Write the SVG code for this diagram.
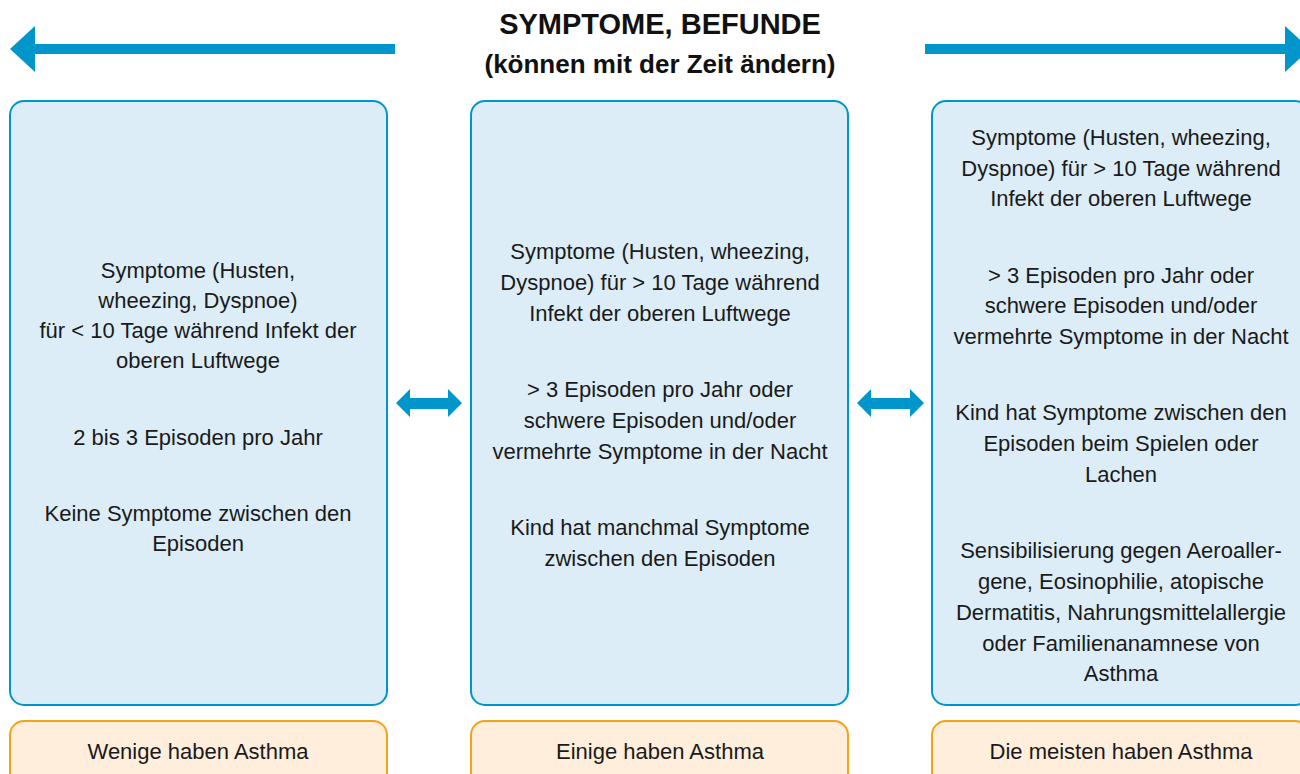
<svg xmlns="http://www.w3.org/2000/svg" width="1300" height="774" viewBox="0 0 1300 774">
<style>
.box{fill:#DCEDF7;stroke:#0096CB;stroke-width:2}
.res{fill:#FEEEDB;stroke:#F5A21B;stroke-width:2}
.t{font-family:"Liberation Sans",Arial,sans-serif;font-size:22px;fill:#1a1a1a;text-anchor:middle}
.h{font-family:"Liberation Sans",Arial,sans-serif;font-weight:bold;fill:#111;text-anchor:middle}
.arr{fill:#0096CB}
</style>
<rect width="1300" height="774" fill="#fff"/>
<g id="title">
<text class="h" x="660" y="34" font-size="29">SYMPTOME, BEFUNDE</text>
<text class="h" x="660" y="73" font-size="26">(können mit der Zeit ändern)</text>
</g>
<g id="connectors">
<path class="arr" d="M10,49 L35,26 L35,44 L395,44 L395,54 L35,54 L35,72 Z"/>
<path class="arr" d="M1310,49 L1285,26 L1285,44 L925,44 L925,54 L1285,54 L1285,72 Z"/>
<path class="arr" d="M396,403 L410,389 L410,398 L448,398 L448,389 L462,403 L448,417 L448,409 L410,409 L410,417 Z"/>
<path class="arr" d="M857,403 L871,389 L871,398 L910,398 L910,389 L924,403 L910,417 L910,409 L871,409 L871,417 Z"/>
</g>
<g id="box-left">
<rect class="box" x="10" y="101" width="377" height="604" rx="14"/>
<text class="t" x="198" y="278">Symptome (Husten,</text>
<text class="t" x="198" y="308">wheezing, Dyspnoe)</text>
<text class="t" x="198" y="338">für &lt; 10 Tage während Infekt der</text>
<text class="t" x="198" y="368">oberen Luftwege</text>
<text class="t" x="198" y="445">2 bis 3 Episoden pro Jahr</text>
<text class="t" x="198" y="521">Keine Symptome zwischen den</text>
<text class="t" x="198" y="551">Episoden</text>
</g>
<g id="box-middle">
<rect class="box" x="471" y="101" width="377" height="604" rx="14"/>
<text class="t" x="660" y="259">Symptome (Husten, wheezing,</text>
<text class="t" x="660" y="290">Dyspnoe) für &gt; 10 Tage während</text>
<text class="t" x="660" y="321">Infekt der oberen Luftwege</text>
<text class="t" x="660" y="397">&gt; 3 Episoden pro Jahr oder</text>
<text class="t" x="660" y="428">schwere Episoden und/oder</text>
<text class="t" x="660" y="459">vermehrte Symptome in der Nacht</text>
<text class="t" x="660" y="535">Kind hat manchmal Symptome</text>
<text class="t" x="660" y="566">zwischen den Episoden</text>
</g>
<g id="box-right">
<rect class="box" x="932" y="101" width="377" height="604" rx="14"/>
<text class="t" x="1121" y="145">Symptome (Husten, wheezing,</text>
<text class="t" x="1121" y="176">Dyspnoe) für &gt; 10 Tage während</text>
<text class="t" x="1121" y="206">Infekt der oberen Luftwege</text>
<text class="t" x="1121" y="283">&gt; 3 Episoden pro Jahr oder</text>
<text class="t" x="1121" y="313">schwere Episoden und/oder</text>
<text class="t" x="1121" y="344">vermehrte Symptome in der Nacht</text>
<text class="t" x="1121" y="420">Kind hat Symptome zwischen den</text>
<text class="t" x="1121" y="451">Episoden beim Spielen oder</text>
<text class="t" x="1121" y="482">Lachen</text>
<text class="t" x="1121" y="558">Sensibilisierung gegen Aeroaller-</text>
<text class="t" x="1121" y="589">gene, Eosinophilie, atopische</text>
<text class="t" x="1121" y="620">Dermatitis, Nahrungsmittelallergie</text>
<text class="t" x="1121" y="651">oder Familienanamnese von</text>
<text class="t" x="1121" y="681">Asthma</text>
</g>
<g id="result-left">
<rect class="res" x="10" y="721" width="377" height="80" rx="14"/>
<text class="t" x="198" y="759">Wenige haben Asthma</text>
</g>
<g id="result-middle">
<rect class="res" x="471" y="721" width="377" height="80" rx="14"/>
<text class="t" x="660" y="759">Einige haben Asthma</text>
</g>
<g id="result-right">
<rect class="res" x="932" y="721" width="377" height="80" rx="14"/>
<text class="t" x="1121" y="759">Die meisten haben Asthma</text>
</g>
</svg>
